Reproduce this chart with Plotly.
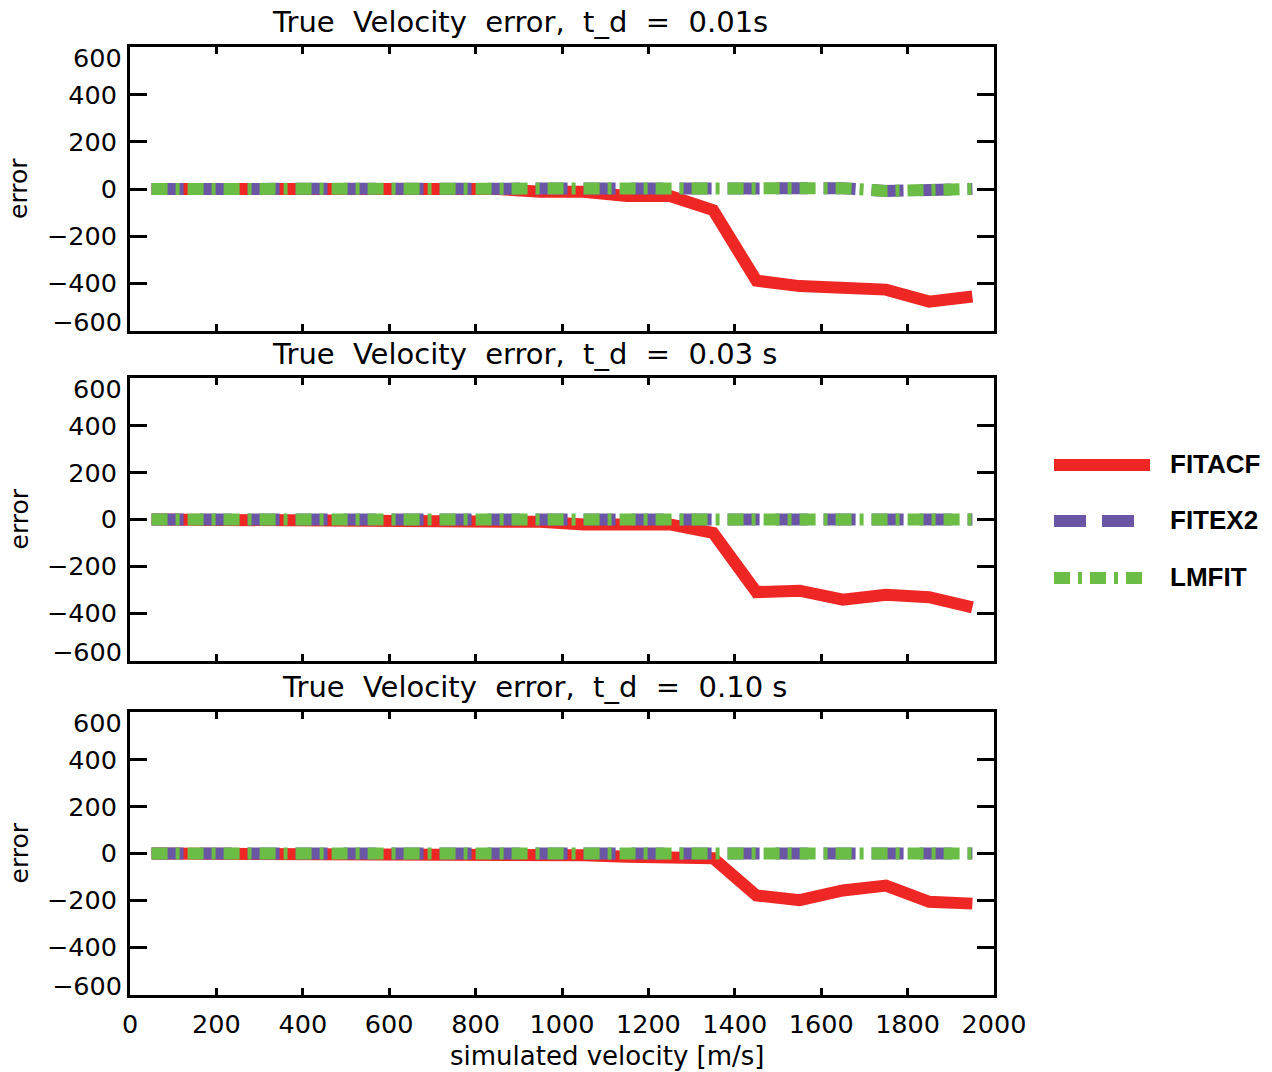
import plotly.graph_objects as go

# Simulated velocities [m/s]
velocity = [50, 150, 250, 350, 450, 550, 650, 750, 850, 950,
            1050, 1150, 1250, 1350, 1450, 1550, 1650, 1750, 1850, 1950]

# Velocity error for each fitting method, per lag time t_d
fitacf_001 = [0, 0, -2, 0, 2, -3, -5, 2, 0, -12, -12, -30, -30, -90, -390, -413, -421, -428, -479, -457]
fitex2_001 = [0, 0, 0, 0, 2, 10, 5, 0, -2, 3, 2, 0, 0, 5, 0, 2, 3, -8, 0, 0]
lmfit_001 = [0, 0, 0, 0, 2, 10, 4, 0, -2, 3, 2, 0, 0, 5, 0, 2, 3, -8, 0, 0]

fitacf_003 = [0, 0, 0, 0, 0, -3, -5, -3, -2, -10, -21, -18, -21, -57, -310, -304, -342, -321, -332, -375]
fitex2_003 = [0, 0, 0, 0, 0, 0, 0, 0, 0, 0, 0, 0, 0, 0, 0, 0, 0, 0, 0, 0]
lmfit_003 = [0, 0, 0, 0, 0, 0, 0, 0, 0, 0, 0, 0, 0, 0, 0, 0, 0, 0, 0, 0]

fitacf_010 = [0, 0, 0, 0, 0, 0, -3, -2, 0, -8, -8, -14, -17, -20, -179, -199, -158, -137, -206, -214]
fitex2_010 = [0, 0, 0, 0, 0, 0, 0, 0, 0, 0, 0, 0, 0, 0, 0, 0, 0, 0, 0, 0]
lmfit_010 = [0, 0, 0, 0, 0, 0, 0, 0, 0, 0, 0, 0, 0, 0, 0, 0, 0, 0, 0, 0]

title_stem = ["True", "Velocity", "error,", "t_d", "=", ]
lag_labels = ["0.01s", "0.03 s", "0.10 s"]
method_names = ["FITACF", "FITEX2", "LMFIT"]
x_ticks = [0, 200, 400, 600, 800, 1000, 1200, 1400, 1600, 1800, 2000]
y_ticks = [-400, -200, 0, 200, 400]

colors = {"FITACF": "#EE2724", "FITEX2": "#6B56A6", "LMFIT": "#6CBD45"}
dashes = {"FITACF": "solid", "FITEX2": "32px,16px", "LMFIT": "16px,8px,4px,8px"}
LW = 12
FONT = "DejaVu Sans"
TICK_SIZE = 25.5
WIDE_GAP = "\u00a0\u00a0"  # roomy word spacing for the panel titles

W, H = 1272, 1072
L, R, T, B = 130, 278, 47, 77
PW, PH = W - L - R, H - T - B

def px_x(p):
    return (p - L) / PW

def px_y(p):
    return (H - B - p) / PH

# panel frames in pixel rows (top, bottom)
frames = [(47, 331), (378, 661), (712, 995)]
title_pos = [(520, 22), (524, 354), (534, 687)]

panels = [
    (fitacf_001, fitex2_001, lmfit_001),
    (fitacf_003, fitex2_003, lmfit_003),
    (fitacf_010, fitex2_010, lmfit_010),
]

fig = go.Figure()
annotations = []
shapes = []

for i, series in enumerate(panels):
    n = i + 1
    xa = "x" if n == 1 else f"x{n}"
    ya = "y" if n == 1 else f"y{n}"
    for name, vals in zip(method_names, series):
        fig.add_trace(go.Scatter(
            x=velocity, y=vals, mode="lines", name=name,
            line=dict(color=colors[name], width=LW, dash=dashes[name]),
            xaxis=xa, yaxis=ya, showlegend=False, hoverinfo="skip"))

    top, bot = frames[i]
    dom = [px_y(bot), px_y(top)]
    last = (n == 3)
    fig.layout[f"xaxis{'' if n == 1 else n}"] = dict(
        domain=[0, 1], range=[0, 2000], anchor=ya,
        tickvals=x_ticks, ticks="inside", ticklen=7, tickwidth=3,
        tickcolor="black", showline=True, linewidth=3, linecolor="black",
        mirror="allticks", showgrid=False, zeroline=False,
        showticklabels=last, ticklabelstandoff=4,
        tickfont=dict(family=FONT, size=TICK_SIZE, color="black"))
    fig.layout[f"yaxis{'' if n == 1 else n}"] = dict(
        domain=dom, range=[-604, 604], anchor=xa,
        tickvals=y_ticks, ticks="inside", ticklen=17, tickwidth=3,
        tickcolor="black", showline=True, linewidth=3, linecolor="black",
        mirror="allticks", showgrid=False, zeroline=False,
        ticklabelstandoff=5,
        tickfont=dict(family=FONT, size=TICK_SIZE, color="black"))

    # end labels of the y scale sit just inside the frame
    for v, shift in ((600, -10), (-600, 8)):
        annotations.append(dict(
            text=f"{v}".replace("-", "\u2212"), xref=f"{xa} domain", x=0,
            yref=ya, y=v, xanchor="right", yanchor="middle",
            xshift=-6, yshift=shift, showarrow=False,
            font=dict(family=FONT, size=TICK_SIZE, color="black")))

    annotations.append(dict(
        text="error", textangle=-90, xref="paper", x=px_x(19),
        yref="paper", y=px_y((top + bot) / 2), xanchor="center",
        yanchor="middle", showarrow=False,
        font=dict(family=FONT, size=25, color="black")))

    tx, ty = title_pos[i]
    title_text = WIDE_GAP.join(title_stem + [lag_labels[i]])
    annotations.append(dict(
        text=title_text, xref="paper", x=px_x(tx),
        yref="paper", y=px_y(ty), xanchor="center", yanchor="middle",
        showarrow=False, font=dict(family=FONT, size=29, color="black")))

annotations.append(dict(
    text="simulated velocity [m/s]", xref="paper", x=px_x(607),
    yref="paper", y=px_y(1056), xanchor="center", yanchor="middle",
    showarrow=False, font=dict(family=FONT, size=26, color="black")))

# legend samples
for name, py in zip(method_names, (465, 521, 578)):
    shapes.append(dict(
        type="line", xref="paper", yref="paper",
        x0=px_x(1054), x1=px_x(1150), y0=px_y(py), y1=px_y(py),
        line=dict(color=colors[name], width=LW, dash=dashes[name])))
    annotations.append(dict(
        text=f"<b>{name}</b>", xref="paper", x=px_x(1168), yref="paper",
        y=px_y(py - 1), xanchor="left", yanchor="middle", showarrow=False,
        font=dict(family="Liberation Sans", size=26, color="black")))

fig.update_layout(
    width=W, height=H, margin=dict(l=L, r=R, t=T, b=B),
    paper_bgcolor="white", plot_bgcolor="white",
    showlegend=False, annotations=annotations, shapes=shapes)

fig.write_html("out.html")
